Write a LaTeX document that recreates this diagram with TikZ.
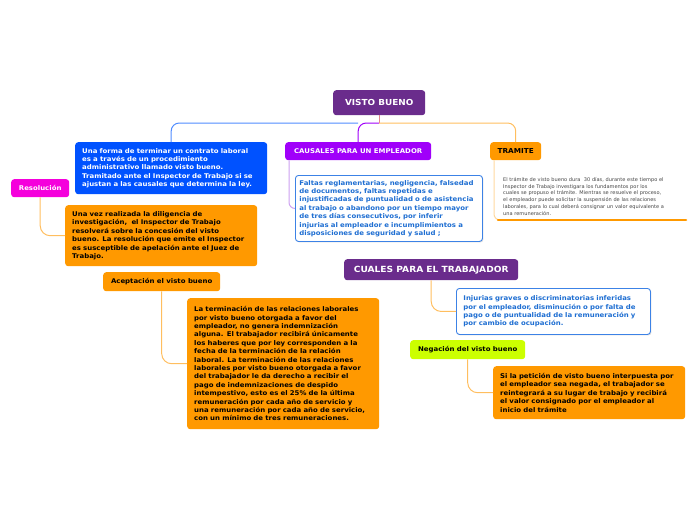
\documentclass[tikz,border=0pt]{standalone}
\usepackage{fontspec}
\setmainfont{DejaVu Sans}[BoldFeatures={FakeStretch=1.07}]
\usetikzlibrary{shadows}
\definecolor{morado}{RGB}{106,44,140}
\definecolor{violeta}{RGB}{160,0,250}
\definecolor{azul}{RGB}{0,82,255}
\definecolor{naranja}{RGB}{255,153,0}
\definecolor{fucsia}{RGB}{245,0,220}
\definecolor{lima}{RGB}{204,255,0}
\definecolor{azultexto}{RGB}{30,110,210}
\definecolor{bordeazul}{RGB}{60,130,230}
\definecolor{gris}{RGB}{70,70,70}
\definecolor{lineaazul}{RGB}{80,140,255}
\definecolor{lineanaranja}{RGB}{255,190,95}
\definecolor{lineamorada}{RGB}{205,160,240}

\begin{document}
\begin{tikzpicture}[x=1pt,y=-1pt]
  \tikzstyle{caja}=[anchor=north west,rounded corners=3pt,align=left,inner xsep=7pt,inner ysep=0pt,text=black,font=\fontsize{6.5}{8.4}\selectfont\bfseries]
  \tikzstyle{rotulo}=[anchor=north west,rounded corners=3pt,align=center,inner sep=0pt,text=black,font=\fontsize{6.5}{8}\selectfont\bfseries]
  \tikzstyle{blanca}=[caja,fill=white,draw=bordeazul,line width=0.9pt,text=azultexto,drop shadow={opacity=0.25,shadow xshift=1pt,shadow yshift=-1pt}]
  \tikzstyle{liga}=[line width=1pt,rounded corners=8pt]
  \useasboundingbox (0,0) rectangle (696,520);

  % tema central
  \node[rotulo,fill=morado,text=white,minimum width=92pt,minimum height=25pt,font=\fontsize{8.3}{10}\selectfont\bfseries] (visto) at (333,90) {VISTO BUENO};
  \node[caja,fill=azul,text=white,text width=178pt,minimum height=52pt] (forma) at (75,142) {Una forma de terminar un contrato laboral\\es a través de un procedimiento\\administrativo llamado visto bueno.\\Tramitado ante el Inspector de Trabajo si se\\ajustan a las causales que determina la ley.};
  \node[rotulo,fill=violeta,text=white,minimum width=146pt,minimum height=18pt,font=\fontsize{6.5}{8}\selectfont\bfseries] (causales) at (285,142) {CAUSALES PARA UN EMPLEADOR};
  \node[blanca,text width=179pt,inner xsep=4pt,minimum height=66pt] (faltas) at (295,175) {Faltas reglamentarias, negligencia, falsedad\\de documentos, faltas repetidas e\\injustificadas de puntualidad o de asistencia\\al trabajo o abandono por un tiempo mayor\\de tres días consecutivos, por inferir\\injurias al empleador e incumplimientos a\\disposiciones de seguridad y salud ;};
  \node[rotulo,fill=naranja,minimum width=51pt,minimum height=18pt,font=\fontsize{6.8}{8}\selectfont\bfseries] (tramite) at (490,142) {TRAMITE};
  \node[anchor=north west,inner sep=0pt,text width=184pt,align=left,text=gris,font=\fontsize{5.05}{6.8}\selectfont] (plazo) at (503,177) {El trámite de visto bueno dura \ 30 días, durante este tiempo el\\Inspector de Trabajo investigara los fundamentos por los\\cuales se propuso el trámite. Mientras se resuelve el proceso,\\el empleador puede solicitar la suspensión de las relaciones\\laborales, para lo cual deberá consignar un valor equivalente a\\una remuneración.};
  \coordinate (subizq) at (498,220);
  \coordinate (subder) at (686,220);

  % temas sueltos
  \node[rotulo,fill=fucsia,text=white,minimum width=58pt,minimum height=18pt] (resolucion) at (11,179) {Resolución};
  \node[caja,fill=naranja,text width=178pt,minimum height=61pt] (diligencia) at (65,205) {Una vez realizada la diligencia de\\investigación, \ el Inspector de Trabajo\\resolverá sobre la concesión del visto\\bueno. La resolución que emite el Inspector\\es susceptible de apelación ante el Juez de\\Trabajo.};
  \node[rotulo,fill=naranja,minimum width=117pt,minimum height=19pt] (aceptacion) at (103,272) {Aceptación el visto bueno};
  \node[caja,fill=naranja,text width=178pt,minimum height=131pt] (terminacion) at (187,298) {La terminación de las relaciones laborales\\por visto bueno otorgada a favor del\\empleador, no genera indemnización\\alguna. El trabajador recibirá únicamente\\los haberes que por ley corresponden a la\\fecha de la terminación de la relación\\laboral. La terminación de las relaciones\\laborales por visto bueno otorgada a favor\\del trabajador le da derecho a recibir el\\pago de indemnizaciones de despido\\intempestivo, esto es el 25\% de la última\\remuneración por cada año de servicio y\\una remuneración por cada año de servicio,\\con un mínimo de tres remuneraciones.};
  \node[rotulo,fill=morado,text=white,minimum width=174pt,minimum height=21pt,font=\fontsize{8.5}{10}\selectfont\bfseries] (cuales) at (344,259) {CUALES PARA EL TRABAJADOR};
  \node[blanca,text width=180pt,minimum height=46pt] (injurias) at (456,288) {Injurias graves o discriminatorias inferidas\\por el empleador, disminución o por falta de\\pago o de puntualidad de la remuneración y\\por cambio de ocupación.};
  \node[rotulo,fill=lima,minimum width=115pt,minimum height=19pt] (negacion) at (410,340) {Negación del visto bueno};
  \node[caja,fill=naranja,text width=178pt,minimum height=53pt] (peticion) at (493,366) {Si la petición de visto bueno interpuesta por\\el empleador sea negada, el trabajador se\\reintegrará a su lugar de trabajo y recibirá\\el valor consignado por el empleador al\\inicio del trámite};

  % conectores
  \coordinate (nudo) at (visto.south |- 0,123);
  \draw[line width=1.2pt,color=lineanaranja!70!violeta] (visto.south) -- (nudo);
  \draw[liga,lineaazul] (causales.north |- nudo) -| (forma.north);
  \draw[liga,violeta] (nudo) -| (causales.north);
  \draw[liga,lineanaranja] (nudo) -| (tramite.north);
  \draw[liga,lineamorada,rounded corners=6pt] ([xshift=4pt]causales.south west) |- (faltas.west);
  \draw[liga,lineanaranja!60,rounded corners=6pt] ([xshift=4pt]tramite.south west) |- (subizq);
  \draw[naranja,line width=2.5pt,line cap=round] (subizq) -- (subder);
  \draw[liga,lineanaranja,rounded corners=10pt] (resolucion.south) |- (diligencia.west);
  \draw[liga,lineanaranja,rounded corners=10pt] (aceptacion.south) |- (terminacion.west);
  \draw[liga,lineanaranja,rounded corners=10pt] (cuales.south) |- (injurias.west);
  \draw[liga,lineanaranja,rounded corners=10pt] (negacion.south) |- (peticion.west);
\end{tikzpicture}
\end{document}
